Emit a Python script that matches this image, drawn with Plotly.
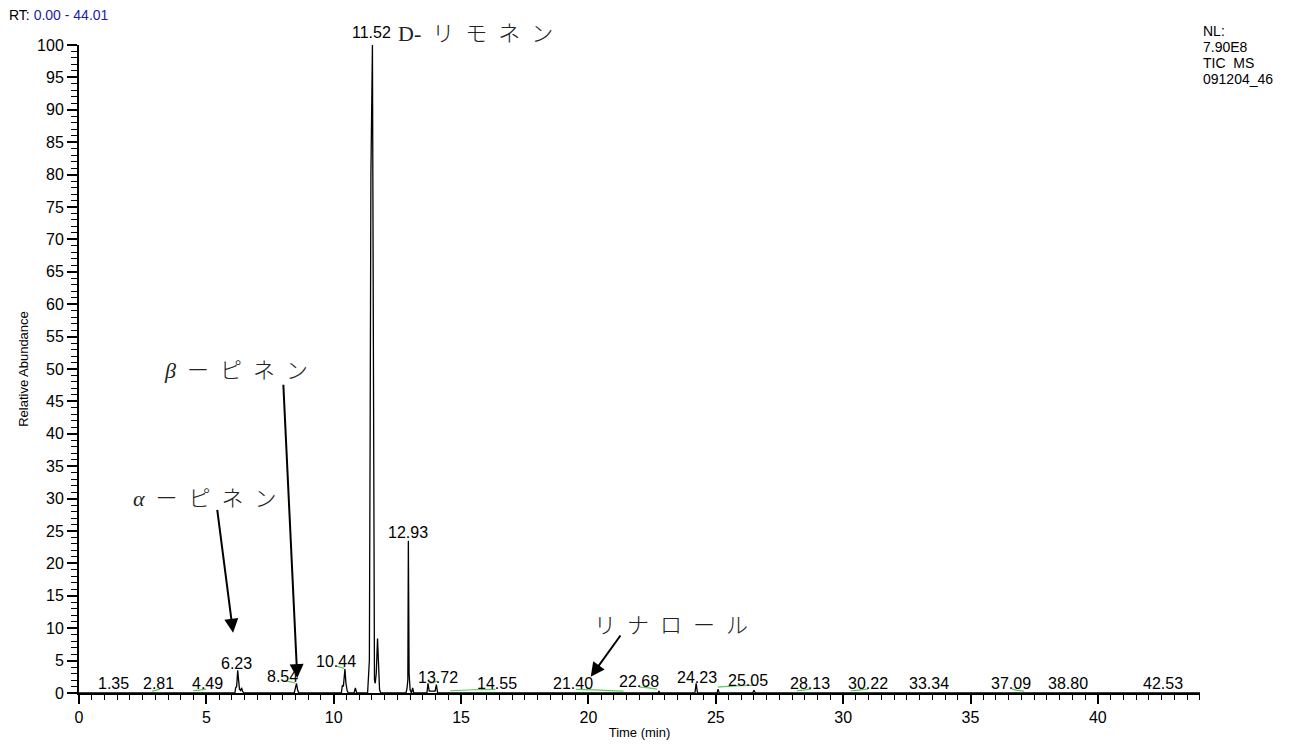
import plotly.graph_objects as go

# ---------------- data ----------------
# chromatogram vertices (retention time, relative abundance)
rt = [0.0, 6.12, 6.15, 6.19, 6.23, 6.27, 6.30, 6.35, 6.38, 6.42, 6.47,
      8.45, 8.49, 8.54, 8.58, 8.63,
      10.30, 10.34, 10.38, 10.44, 10.48, 10.53, 10.58,
      10.80, 10.85, 10.90,
      11.33, 11.37, 11.40, 11.43, 11.46, 11.52, 11.55, 11.57, 11.60, 11.63, 11.67, 11.72, 11.76, 11.80, 11.85,
      12.84, 12.88, 12.91, 12.93, 12.96, 13.00, 13.05, 13.10, 13.14,
      13.66, 13.70, 13.75, 13.98, 14.03, 14.08,
      22.74, 22.77, 22.80,
      24.18, 24.23, 24.28,
      25.05, 25.09, 25.13,
      26.45, 26.50, 26.55,
      44.01]
abundance = [0, 0, 0.8, 1.0, 3.5, 1.0, 0.6, 0.4, 0.8, 0.3, 0,
             0, 0.5, 1.5, 0.5, 0,
             0, 1.2, 1.0, 3.7, 1.5, 0.3, 0,
             0, 0.8, 0,
             0, 3.5, 5.0, 40, 80, 100, 60, 10, 2, 1.5, 3, 8.4, 3, 0.5, 0,
             0, 0.8, 2, 23.5, 3, 0.5, 0, 0.8, 0,
             0, 1.5, 0.3, 0.3, 1.3, 0,
             0, 0.3, 0,
             0, 1.5, 0,
             0, 0.6, 0,
             0, 0.4, 0,
             0]

# peak labels
peak_labels = ["1.35", "2.81", "4.49", "6.23", "8.54", "10.44", "11.52", "12.93", "13.72",
               "14.55", "21.40", "22.68", "24.23", "25.05", "28.13", "30.22", "33.34",
               "37.09", "38.80", "42.53"]
label_x = [1.34, 3.14, 5.03, 6.20, 8.00, 10.10, 11.48, 12.93, 14.10,
           16.40, 19.40, 21.97, 24.25, 26.26, 28.70, 30.97, 33.37,
           36.60, 38.84, 42.57]
label_y = [1.5, 1.5, 1.5, 4.6, 2.6, 4.9, 101.9, 24.7, 2.4,
           1.4, 1.4, 1.7, 2.4, 2.0, 1.4, 1.4, 1.4,
           1.4, 1.4, 1.4]

# green integration marks (start, mid, end)
green_x = [[2.87, 3.02, 3.18], [4.48, 4.74, 4.99], [8.02, 8.25, 8.49], [10.14, 10.28, 10.42],
           [13.76, 13.92, 14.07], [14.58, 15.45, 16.35], [19.50, 20.45, 21.38], [22.00, 22.35, 22.70],
           [25.08, 25.80, 26.50], [28.18, 28.45, 28.73], [30.30, 30.63, 30.97], [36.63, 36.86, 37.10]]
green_y = [[0.30, 0.40, 0.60], [0.35, 0.45, 0.60], [1.85, 1.75, 1.55], [4.10, 3.95, 3.80],
           [1.50, 1.60, 1.85], [0.35, 0.50, 0.55], [0.55, 0.45, 0.30], [0.90, 0.80, 0.60],
           [0.90, 1.10, 1.20], [0.35, 0.45, 0.60], [0.35, 0.45, 0.60], [0.60, 0.40, 0.30]]

# compound names with arrows
compounds = ["<i>\u03b2</i>\u2002ー\u2002ピ\u2002ネ\u2002ン", "<i>\u03b1</i>\u2002ー\u2002ピ\u2002ネ\u2002ン",
             "リ\u2002ナ\u2002ロ\u2002ー\u2002ル"]
compound_x = [6.17, 4.95, 23.24]
compound_y = [49.8, 30.0, 10.4]
arrow_tip_x = [8.57, 6.05, 20.09]
arrow_tip_y = [2.3, 9.3, 2.5]
arrow_tail_x = [8.02, 5.42, 21.30]
arrow_tail_y = [47.8, 28.5, 9.1]

limonene_text = "D-\u2002リ\u2002モ\u2002ネ\u2002ン"
limonene_x = 12.45
limonene_y = 101.8

info_lines = ["NL:", "7.90E8", "TIC\u00a0\u00a0MS", "091204_46"]

Y_MIN, Y_MAX = 0, 100

def ypaper(v):
    return (v - Y_MIN) / (Y_MAX - Y_MIN)

# ---------------- figure ----------------
fig = go.Figure()
for gx, gy in zip(green_x, green_y):
    fig.add_trace(go.Scatter(x=gx, y=gy, mode="lines", line=dict(color="#5cc85c", width=1.2, shape="spline"),
                             hoverinfo="skip", showlegend=False))
fig.add_trace(go.Scatter(x=rt, y=abundance, mode="lines", line=dict(color="black", width=1.3),
                         showlegend=False, cliponaxis=False))

ann = []
lab_font = dict(family="Liberation Sans, Arial, sans-serif", size=16, color="black")
for t, x, y in zip(peak_labels, label_x, label_y):
    ann.append(dict(x=x, y=ypaper(y), xref="x", yref="paper", text=t, showarrow=False, font=lab_font,
                    xanchor="center", yanchor="middle"))

jp_font = dict(family="Liberation Serif, Noto Sans CJK JP", size=22, color="#222222", weight=300)
for t, x, y in zip(compounds, compound_x, compound_y):
    ann.append(dict(x=x, y=y, xref="x", yref="y", text=t, showarrow=False, font=jp_font,
                    xanchor="center", yanchor="middle"))
for tx, ty, sx, sy in zip(arrow_tip_x, arrow_tip_y, arrow_tail_x, arrow_tail_y):
    ann.append(dict(x=tx, y=ty, xref="x", yref="y", ax=sx, ay=sy, axref="x", ayref="y",
                    text="", showarrow=True, arrowhead=2, arrowsize=1.4, arrowwidth=2,
                    arrowcolor="black", standoff=0))

ann.append(dict(x=limonene_x, y=ypaper(limonene_y), xref="x", yref="paper", text=limonene_text, showarrow=False,
                font=dict(family="Liberation Serif, Noto Sans CJK JP", size=22, color="#222222", weight=300),
                xanchor="left", yanchor="middle"))

ann.append(dict(x=-0.064, y=1.047, xref="paper", yref="paper", xanchor="left", yanchor="middle",
                showarrow=False, font=dict(family="Liberation Sans, Arial", size=14, color="black"),
                text="RT: <span style='color:#1c1ca8'>0.00 - 44.01</span>"))
for i, line in enumerate(info_lines):
    ann.append(dict(x=1.0005, y=1.0 - (i * 16 - 14) / 648.0, xref="paper", yref="paper",
                    xanchor="left", yanchor="middle", showarrow=False,
                    font=dict(family="Liberation Sans, Arial", size=14, color="black"), text=line))

fig.update_layout(
    width=1306, height=746,
    margin=dict(l=79, r=106, t=45, b=53, pad=0),
    paper_bgcolor="white", plot_bgcolor="white",
    annotations=ann,
    xaxis=dict(range=[0, 44.01], dtick=5, tick0=0, ticks="outside", ticklen=9, tickwidth=1.5,
               tickcolor="black", showgrid=False, zeroline=False, showline=True, linecolor="black",
               linewidth=2, automargin=False,
               tickfont=dict(family="Liberation Sans, Arial", size=16, color="black"),
               minor=dict(dtick=0.5, ticks="outside", ticklen=5, tickwidth=1, tickcolor="black"),
               title=dict(text="Time (min)", standoff=3,
                          font=dict(family="Liberation Sans, Arial", size=13, color="black"))),
    yaxis=dict(range=[Y_MIN, Y_MAX], dtick=5, tick0=0, ticks="outside", ticklen=10, tickwidth=1.5,
               tickcolor="black", showgrid=False, zeroline=False, showline=True, linecolor="black",
               linewidth=2, automargin=False,
               tickfont=dict(family="Liberation Sans, Arial", size=16, color="black"),
               minor=dict(dtick=1, ticks="outside", ticklen=6, tickwidth=1, tickcolor="black"),
               title=dict(text="Relative Abundance", standoff=6,
                          font=dict(family="Liberation Sans, Arial", size=13, color="black"))),
)

fig.write_html("out.html", post_script="document.body.style.margin='0';",
               config={"displayModeBar": False})
